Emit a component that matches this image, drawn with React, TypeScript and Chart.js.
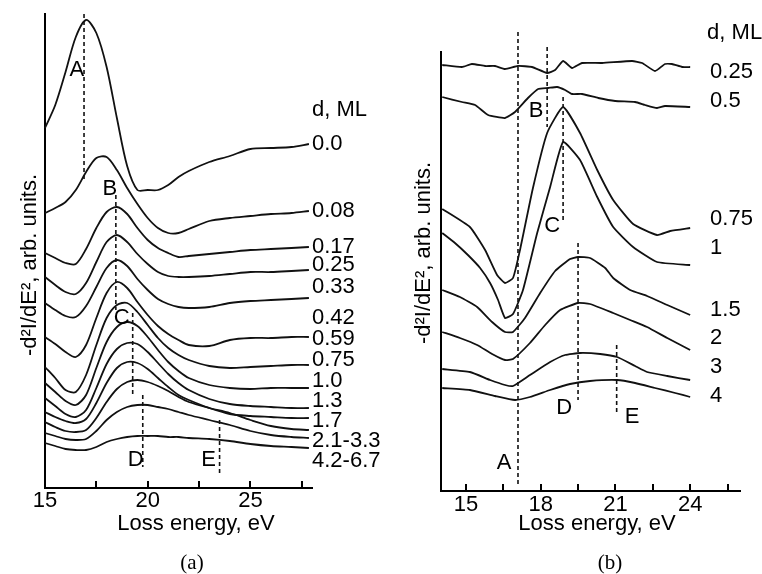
import React, { useEffect, useRef } from 'react';
import { Chart, registerables } from 'chart.js';

Chart.register(...registerables);

const SANS = '"Liberation Sans", Arial, Helvetica, sans-serif';
const SERIF = '"Liberation Serif", "Times New Roman", serif';

// ---------------- Panel (a) ----------------
const energyA = [15, 15.5, 16, 16.5, 17, 17.5, 18, 18.5, 19, 19.5, 20, 20.5, 21, 21.5, 22, 23, 24, 25, 26, 27, 27.85];
const a000 = [360, 383, 416, 451, 468, 455, 421, 370, 322, 298, 298, 298, 303, 311, 317, 326, 332, 339, 340, 341, 344];
const a008 = [275, 280, 286, 298, 316, 330, 331, 318, 300, 284, 270, 260, 255, 255, 259, 267, 270, 272, 274, 275, 277];
const a017 = [235, 230, 225, 224, 239, 260, 276, 281, 274, 260, 248, 240, 235, 231, 232, 234, 236, 238, 239, 240, 241];
const a025 = [211, 203, 196, 194, 205, 226, 246, 253, 246, 234, 224, 216, 212, 211, 211, 212, 214, 216, 216, 217, 218];
const a033 = [185, 178, 172, 171, 182, 201, 220, 228, 222, 209, 198, 189, 184, 181, 180, 181, 185, 187, 188, 189, 190];
const a042 = [151, 144, 136, 131, 143, 170, 195, 206, 200, 186, 173, 162, 154, 148, 143, 142, 148, 150, 150, 151, 151];
const a059 = [121, 110, 98, 96, 113, 143, 170, 183, 185, 176, 163, 150, 140, 133, 128, 122, 120, 121, 122, 123, 123];
const a075 = [105, 96, 87, 83, 93, 120, 146, 161, 166, 162, 151, 138, 126, 117, 110, 103, 100, 99, 100, 100, 100];
const a100 = [90, 82, 74, 71, 78, 100, 124, 139, 145, 144, 136, 125, 114, 105, 98, 89, 84, 82, 81, 80, 80];
const a130 = [76, 71, 67, 65, 69, 85, 105, 120, 126, 125, 119, 110, 101, 93, 88, 80, 74, 72, 71, 70, 70];
const a170 = [66, 61, 57, 56, 58, 70, 86, 99, 106, 108, 106, 102, 97, 91, 86, 80, 75, 68, 62, 59, 58];
const a21to33 = [55, 52, 49, 48, 49, 57, 68, 76, 81, 83, 83, 81, 79, 76, 73, 68, 63, 57, 53, 51, 50];
const a42to67 = [45, 42, 39, 38, 38, 41, 46, 49, 51, 52, 52, 52, 51, 51, 50, 49, 47, 44, 42, 41, 40];

const namesA = ['0.0', '0.08', '0.17', '0.25', '0.33', '0.42', '0.59', '0.75', '1.0', '1.3', '1.7', '2.1-3.3', '4.2-6.7'];
const labelYA = [344, 277, 241, 223, 201, 170, 149, 128, 107, 87, 67, 47, 27];

const tickValuesA = [15, 17.5, 20, 22.5, 25, 27.5];
const tickLabelsA = [15, 20, 25];

const markerXA = [16.9, 18.45, 19.27, 19.76, 23.5];
const markerTopA = [474, 293, 175, 93, 68];
const markerBottomA = [308, 178, 93, 21, 15];

const lettersA = ['A', 'B', 'C', 'D', 'E'];
const letterXA = [16.55, 18.16, 18.74, 19.42, 22.96];
const letterYA = [418, 299, 170, 28, 28];

// ---------------- Panel (b) ----------------
const b025E = [14.05, 14.84, 15.24, 15.77, 16.17, 16.57, 17.09, 17.65, 18.26, 18.58, 18.9, 19.26, 19.66, 20.47, 21.67, 22.07, 22.59, 22.99, 23.27, 23.68, 24.0];
const b025V = [426, 424, 427, 425, 425, 422, 425, 424, 418, 421, 430, 423, 428, 428, 430, 428, 420, 427, 427, 424, 424];
const b05E = [14.05, 14.84, 15.37, 15.89, 16.57, 16.97, 17.49, 17.9, 18.3, 18.66, 18.98, 19.26, 19.66, 20.31, 20.99, 21.79, 22.19, 22.67, 22.99, 24.0];
const b05V = [394, 389, 386, 376, 373, 379, 393, 402, 403, 404, 401, 397, 397, 393, 390, 389, 386, 383, 385, 384];
const b075E = [14.05, 15.16, 15.77, 16.25, 16.57, 16.89, 17.17, 17.69, 18.26, 18.9, 19.58, 20.27, 20.91, 21.71, 22.67, 23.2, 24.0];
const b075V = [282, 264, 241, 216, 208, 213, 241, 303, 358, 384, 358, 321, 291, 267, 256, 260, 263];
const b1E = [14.05, 14.56, 15.08, 15.57, 15.97, 16.29, 16.57, 16.89, 17.29, 17.86, 18.38, 18.9, 19.58, 20.27, 20.91, 21.71, 22.67, 24.0];
const b1V = [258, 248, 236, 223, 208, 191, 173, 177, 201, 258, 304, 349, 331, 294, 264, 244, 229, 226];
const b15E = [14.05, 14.76, 15.45, 16.05, 16.57, 16.89, 17.37, 17.98, 18.58, 19.18, 19.5, 19.98, 20.59, 20.91, 21.59, 22.27, 23.08, 24.0];
const b15V = [201, 194, 184, 169, 159, 159, 173, 198, 220, 232, 234, 233, 223, 213, 201, 195, 186, 176];
const b2E = [14.05, 14.76, 15.45, 16.05, 16.57, 16.89, 17.57, 18.18, 18.78, 19.5, 19.98, 20.91, 21.59, 22.27, 23.08, 24.0];
const b2V = [159, 153, 146, 137, 131, 132, 148, 166, 181, 188, 187, 178, 171, 164, 153, 141];
const b3E = [14.05, 15.16, 15.97, 16.57, 16.89, 17.57, 18.38, 18.98, 19.58, 20.39, 21.07, 21.79, 22.27, 23.08, 24.0];
const b3V = [122, 119, 111, 106, 105, 116, 129, 136, 138, 137, 134, 125, 119, 115, 111];
const b4E = [14.05, 15.16, 16.17, 16.97, 17.57, 18.38, 19.18, 19.98, 21.07, 21.79, 22.59, 23.4, 24.0];
const b4V = [103, 101, 95, 91, 94, 101, 107, 110, 111, 108, 103, 98, 94];

const namesB = ['0.25', '0.5', '0.75', '1', '1.5', '2', '3', '4'];
const labelYB = [419, 390, 272, 243, 181, 153, 124, 95];

const tickValuesB = [15, 16.5, 18, 19.5, 21, 22.5, 24, 25.5];
const tickLabelsB = [15, 18, 21, 24];

const markerXB = [17.09, 18.26, 18.9, 19.5, 21.05];
const markerTopB = [459, 444, 394, 248, 146];
const markerBottomB = [6, 364, 269, 91, 78];

const lettersB = ['A', 'B', 'C', 'D', 'E'];
const letterXB = [16.53, 17.82, 18.46, 18.94, 21.67];
const letterYB = [28, 380, 265, 83, 74];

const Y_TITLE = '-d\u00B2I/dE\u00B2, arb. units.';
const X_TITLE = 'Loss energy, eV';

type Pt = { x: number; y: number };

function curveSet(points: Pt[][], tension: number) {
  return points.map((data) => ({
    data,
    borderColor: '#111',
    borderWidth: 1.8,
    pointRadius: 0,
    tension,
    fill: false,
    clip: false as const,
  }));
}

function markerSet(xs: number[], tops: number[], bottoms: number[]) {
  return xs.map((x, i) => ({
    data: [
      { x, y: tops[i] },
      { x, y: bottoms[i] },
    ],
    borderColor: '#111',
    borderWidth: 1.6,
    borderDash: [4, 3],
    pointRadius: 0,
    tension: 0,
    fill: false,
    clip: false as const,
  }));
}

type Annot = {
  id: string;
  tickValues: number[];
  names: string[];
  labelY: number[];
  labelX: number;
  headerX: number;
  headerY: number;
  letters: string[];
  letterX: number[];
  letterY: number[];
  xTitlePos: [number, number];
  yTitlePos: [number, number];
  panel: string;
  panelPos: [number, number];
};

function annotPlugin(cfg: Annot) {
  return {
    id: cfg.id,
    afterDraw(chart: any) {
      const { ctx, chartArea } = chart;
      const x = chart.scales.x;
      const y = chart.scales.y;
      ctx.save();
      ctx.fillStyle = '#000';
      ctx.strokeStyle = '#000';
      ctx.lineWidth = 2;
      for (const v of cfg.tickValues) {
        const px = Math.round(x.getPixelForValue(v));
        ctx.beginPath();
        ctx.moveTo(px, chartArea.bottom);
        ctx.lineTo(px, chartArea.bottom - 7);
        ctx.stroke();
      }
      ctx.font = `22px ${SANS}`;
      ctx.textBaseline = 'middle';
      ctx.textAlign = 'left';
      const lx = x.getPixelForValue(cfg.labelX);
      cfg.names.forEach((n, i) => ctx.fillText(n, lx, y.getPixelForValue(cfg.labelY[i])));
      ctx.fillText('d, ML', x.getPixelForValue(cfg.headerX), y.getPixelForValue(cfg.headerY));
      ctx.textAlign = 'center';
      cfg.letters.forEach((l, i) =>
        ctx.fillText(l, x.getPixelForValue(cfg.letterX[i]), y.getPixelForValue(cfg.letterY[i]))
      );
      ctx.fillText(X_TITLE, cfg.xTitlePos[0], cfg.xTitlePos[1]);
      ctx.save();
      ctx.translate(cfg.yTitlePos[0], cfg.yTitlePos[1]);
      ctx.rotate(-Math.PI / 2);
      ctx.textBaseline = 'alphabetic';
      ctx.fillText(Y_TITLE, 0, 0);
      ctx.restore();
      ctx.font = `21px ${SERIF}`;
      ctx.fillText(cfg.panel, cfg.panelPos[0], cfg.panelPos[1]);
      ctx.restore();
    },
  };
}

function makeConfig(opts: {
  datasets: any[];
  xMin: number;
  xMax: number;
  yMax: number;
  tickValues: number[];
  tickLabels: number[];
  padding: { left: number; right: number; top: number; bottom: number };
  yWidth: number;
  xHeight: number;
  tickPad: number;
  plugin: any;
}) {
  return {
    type: 'line' as const,
    data: { datasets: opts.datasets },
    options: {
      responsive: false,
      animation: false as const,
      events: [],
      layout: { padding: opts.padding },
      plugins: { legend: { display: false }, tooltip: { enabled: false }, title: { display: false } },
      scales: {
        x: {
          type: 'linear' as const,
          min: opts.xMin,
          max: opts.xMax,
          afterFit: (s: any) => {
            s.height = opts.xHeight;
          },
          afterBuildTicks: (s: any) => {
            s.ticks = opts.tickValues.map((v) => ({ value: v }));
          },
          ticks: {
            autoSkip: false,
            maxRotation: 0,
            minRotation: 0,
            padding: opts.tickPad,
            color: '#000',
            font: { family: SANS, size: 22 },
            callback: (v: any) => (opts.tickLabels.includes(Number(v)) ? String(v) : ''),
          },
          grid: { display: false, drawTicks: false },
          border: { display: true, width: 2, color: '#000' },
        },
        y: {
          type: 'linear' as const,
          min: 0,
          max: opts.yMax,
          afterFit: (s: any) => {
            s.width = opts.yWidth;
          },
          ticks: { display: false },
          grid: { display: false, drawTicks: false },
          border: { display: true, width: 2, color: '#000' },
        },
      },
    },
    plugins: [opts.plugin],
  };
}

export default function App() {
  const refA = useRef<HTMLCanvasElement>(null);
  const refB = useRef<HTMLCanvasElement>(null);

  useEffect(() => {
    const seriesA = [a000, a008, a017, a025, a033, a042, a059, a075, a100, a130, a170, a21to33, a42to67];
    const ptsA = seriesA.map((vals) => energyA.map((e, i) => ({ x: e, y: vals[i] })));
    const seriesB: [number[], number[]][] = [
      [b025E, b025V],
      [b05E, b05V],
      [b075E, b075V],
      [b1E, b1V],
      [b15E, b15V],
      [b2E, b2V],
      [b3E, b3V],
      [b4E, b4V],
    ];
    const ptsB = seriesB.map(([es, vs]) => es.map((e, i) => ({ x: e, y: vs[i] })));

    const cfgA = makeConfig({
      datasets: [...curveSet(ptsA, 0.3), ...markerSet(markerXA, markerTopA, markerBottomA)],
      xMin: 15,
      xMax: 28,
      yMax: 474,
      tickValues: tickValuesA,
      tickLabels: tickLabelsA,
      padding: { left: 0, right: 88, top: 14, bottom: 0 },
      yWidth: 45,
      xHeight: 86,
      tickPad: 0,
      plugin: annotPlugin({
        id: 'annotA',
        tickValues: tickValuesA,
        names: namesA,
        labelY: labelYA,
        labelX: 28.0,
        headerX: 28.0,
        headerY: 378,
        letters: lettersA,
        letterX: letterXA,
        letterY: letterYA,
        xTitlePos: [196, 524],
        yTitlePos: [36, 265],
        panel: '(a)',
        panelPos: [192, 563],
      }),
    });

    const cfgB = makeConfig({
      datasets: [...curveSet(ptsB, 0.15), ...markerSet(markerXB, markerTopB, markerBottomB)],
      xMin: 14,
      xMax: 26,
      yMax: 439,
      tickValues: tickValuesB,
      tickLabels: tickLabelsB,
      padding: { left: 0, right: 22, top: 52, bottom: 0 },
      yWidth: 61,
      xHeight: 83,
      tickPad: 1,
      plugin: annotPlugin({
        id: 'annotB',
        tickValues: tickValuesB,
        names: namesB,
        labelY: labelYB,
        labelX: 24.8,
        headerX: 24.68,
        headerY: 458,
        letters: lettersB,
        letterX: letterXB,
        letterY: letterYB,
        xTitlePos: [217, 524],
        yTitlePos: [50, 253],
        panel: '(b)',
        panelPos: [230, 563],
      }),
    });

    const chartA = new Chart(refA.current as HTMLCanvasElement, cfgA as any);
    const chartB = new Chart(refB.current as HTMLCanvasElement, cfgB as any);
    return () => {
      chartA.destroy();
      chartB.destroy();
    };
  }, []);

  return (
    <div style={{ position: 'absolute', left: 0, top: 0, width: 762, height: 574, background: '#fff', overflow: 'hidden' }}>
      <canvas ref={refA} width={400} height={574} style={{ position: 'absolute', left: 0, top: 0, width: 400, height: 574 }} />
      <canvas ref={refB} width={382} height={574} style={{ position: 'absolute', left: 380, top: 0, width: 382, height: 574 }} />
    </div>
  );
}
